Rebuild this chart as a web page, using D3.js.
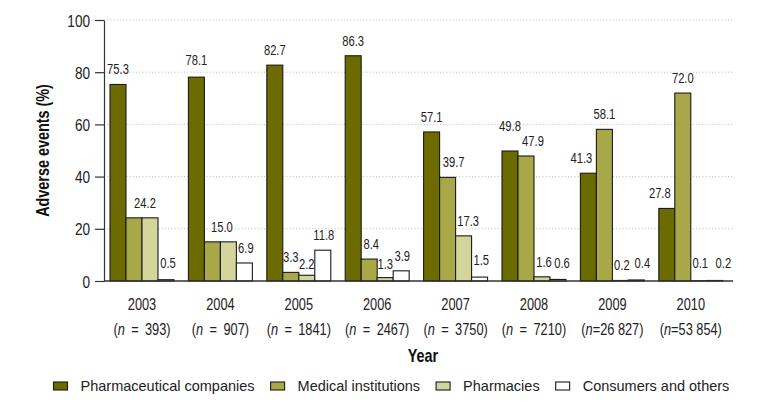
<!DOCTYPE html>
<html>
<head>
<meta charset="utf-8">
<script src="https://cdn.jsdelivr.net/npm/d3@7"></script>
<style>
  html, body { margin: 0; padding: 0; background: #fff; }
  svg { display: block; }
  .cond { font-family: "Liberation Sans", Arial, sans-serif; }
  .reg { font-family: "Liberation Sans", Arial, sans-serif; }
</style>
</head>
<body>
<svg id="chart" width="771" height="409"></svg>
<script>
// ---- data ----
const years = ["2003", "2004", "2005", "2006", "2007", "2008", "2009", "2010"];
const sampleSizes = ["393", "907", "1841", "2467", "3750", "7210", "26 827", "53 854"];
const seriesNames = ["Pharmaceutical companies", "Medical institutions", "Pharmacies", "Consumers and others"];
const pharmaCompanies = [75.3, 78.1, 82.7, 86.3, 57.1, 49.8, 41.3, 27.8];
const medicalInstitutions = [24.2, 15.0, 3.3, 8.4, 39.7, 47.9, 58.1, 72.0];
const pharmacies = [24.2, 15.0, 2.2, 1.3, 17.3, 1.6, 0.2, 0.1];
const consumersOthers = [0.5, 6.9, 11.8, 3.9, 1.5, 0.6, 0.4, 0.2];
const yTicks = [0, 20, 40, 60, 80, 100];
// which labels are shown (2003/2004 pharmacies share the medical label)
const showLabel = [
  [1, 1, 1, 1, 1, 1, 1, 1],
  [1, 1, 1, 1, 1, 1, 1, 1],
  [0, 0, 1, 1, 1, 1, 1, 1],
  [1, 1, 1, 1, 1, 1, 1, 1]
];

// ---- styling / layout (not data) ----
const colors = ["#6b6b00", "#a8a848", "#d4d59b", "#ffffff"];
const labelNudgeX = [
  [0, 0, 0, 0, 0, 0, -7, -7],
  [11, 9.5, 0, 2, 6, 7, 0, 0],
  [0, 0, 0, 0, 4.5, 2, 1.5, 1.5],
  [2, 1.5, 1, 1, 1.6, 4, 6, 8.6]
];
const labelNudgeY = [
  [0, -2, 0, 0, 0, -10, 0, 0],
  [0, 0, 0, 0, 0, 0, 0, 0],
  [0, 0, 4, 1.5, 0, 0, 2, 0],
  [0, 0, 0, 0, -2, 0, 0, 0]
];
const SX = 0.8; // horizontal condensing of the narrow text face

const series = [pharmaCompanies, medicalInstitutions, pharmacies, consumersOthers];

const svg = d3.select("#chart");
const mLeft = 104, mRight = 733, mTop = 20, mBottom = 281;

const x0 = d3.scaleBand().domain(years).range([mLeft, mRight])
  .paddingInner(0.184).paddingOuter(0.1035).align(0.37);
const x1 = d3.scaleBand().domain(d3.range(4)).range([0, x0.bandwidth()]);
const y = d3.scaleLinear().domain([0, 100]).range([mBottom, mTop]);

// gridlines
svg.append("g").selectAll("line").data(yTicks.filter(d => d > 0)).join("line")
  .attr("x1", mLeft).attr("x2", mRight)
  .attr("y1", d => y(d)).attr("y2", d => y(d))
  .attr("stroke", "#bdbdbd").attr("stroke-width", 1)
  .attr("stroke-dasharray", "1,2.2");

// y axis
const yAxis = d3.axisLeft(y).tickValues(yTicks).tickSize(9).tickPadding(5).tickSizeOuter(0);
const gy = svg.append("g").attr("transform", `translate(${mLeft},0)`).call(yAxis);
gy.attr("font-family", null).attr("font-size", null);
gy.select(".domain").attr("stroke", "#333").attr("stroke-width", 1.2);
gy.selectAll(".tick line").attr("stroke", "#333").attr("stroke-width", 1.2);
gy.selectAll(".tick text").attr("class", "cond").attr("font-size", 17).attr("fill", "#222")
  .attr("x", null).attr("dy", null)
  .attr("transform", `translate(-14,6) scale(${SX},1)`);

// bars
const groups = svg.append("g").selectAll("g").data(years).join("g")
  .attr("transform", d => `translate(${x0(d)},0)`);
groups.selectAll("rect").data((d, i) => series.map((s, k) => ({k, v: s[i]}))).join("rect")
  .attr("x", d => x1(d.k)).attr("width", x1.bandwidth())
  .attr("y", d => y(d.v)).attr("height", d => y(0) - y(d.v))
  .attr("fill", d => colors[d.k]).attr("stroke", "#1a1a1a").attr("stroke-width", 1.1);

// x axis baseline
svg.append("line").attr("x1", mLeft).attr("x2", mRight).attr("y1", mBottom).attr("y2", mBottom)
  .attr("stroke", "#333").attr("stroke-width", 1.4);

// value labels
groups.selectAll("text.val").data((d, i) => series.map((s, k) => ({k, i, v: s[i]})).filter(d => showLabel[d.k][d.i]))
  .join("text").attr("class", "val cond")
  .attr("transform", d => `translate(${x1(d.k) + x1.bandwidth() / 2 + labelNudgeX[d.k][d.i]},${Math.min(y(d.v) - 10, 268) + labelNudgeY[d.k][d.i]}) scale(${SX},1)`)
  .attr("text-anchor", "middle").attr("font-size", 14).attr("fill", "#222")
  .text(d => d.v.toFixed(1));

// x category labels
const xl = svg.append("g").selectAll("g").data(years).join("g")
  .attr("transform", d => `translate(${x0(d) + x0.bandwidth() / 2},0)`);
xl.append("text").attr("class", "cond").attr("transform", `translate(0,310) scale(${SX},1)`)
  .attr("text-anchor", "middle").attr("font-size", 16).attr("fill", "#222").text(d => d);
const nt = xl.append("text").attr("class", "cond").attr("transform", `translate(0,335) scale(${SX},1)`)
  .attr("text-anchor", "middle").attr("font-size", 16).attr("fill", "#222");
nt.append("tspan").text("(");
nt.append("tspan").attr("font-style", "italic").text("n");
nt.append("tspan").text((d, i) => sampleSizes[i].includes(" ") ? "=" + sampleSizes[i] + ")" : "\u2002=\u2002" + sampleSizes[i] + ")");

// axis titles
svg.append("text").attr("class", "cond").attr("font-weight", "bold").attr("font-size", 18)
  .attr("text-anchor", "middle").attr("fill", "#111")
  .attr("transform", `translate(49,${(mTop + mBottom) / 2}) rotate(-90) scale(${SX},1)`)
  .text("Adverse events (%)");
svg.append("text").attr("class", "cond").attr("font-weight", "bold").attr("font-size", 18)
  .attr("text-anchor", "middle").attr("fill", "#111")
  .attr("transform", `translate(423,362) scale(${SX},1)`).text("Year");

// legend
const lg = svg.append("g");
let lx = 53.5;
seriesNames.forEach((name, k) => {
  lg.append("rect").attr("x", lx).attr("y", 382).attr("width", 14).attr("height", 8)
    .attr("fill", colors[k]).attr("stroke", "#1a1a1a").attr("stroke-width", 1.1);
  const t = lg.append("text").attr("class", "reg").attr("x", lx + 27).attr("y", 391)
    .attr("font-size", 14.5).attr("fill", "#222").text(name);
  lx += 27 + t.node().getComputedTextLength() + 16;
});
</script>
</body>
</html>
